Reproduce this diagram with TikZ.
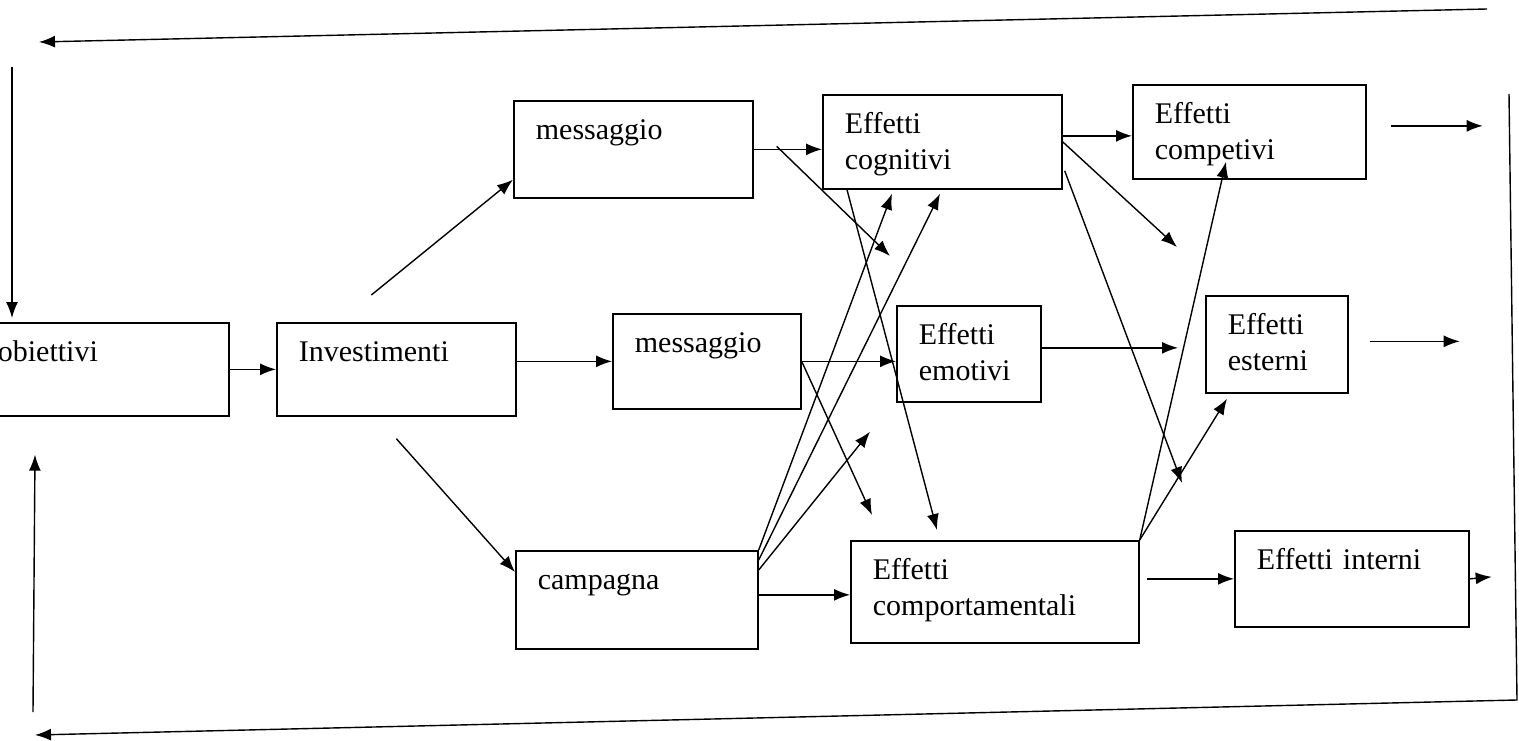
\documentclass[tikz,border=0pt]{standalone}
\usepackage{fontspec}
\setmainfont{Liberation Serif}
\usetikzlibrary{calc,arrows.meta}
\tikzset{
	box/.style 2 args={draw, line width=1.7pt, anchor=north west, align=left,
		inner xsep=22pt, inner ysep=0pt, text width=#1, text height=39pt, text depth=#2},
	arr/.style={line width=1.4pt, -{Latex[length=16pt,width=12pt]}},
}

\begin{document}
\begin{tikzpicture}[x=1pt, y=-1pt, font=\fontsize{30}{36}\selectfont]
		%%%%% START %%%%%
		\useasboundingbox (0,0) rectangle (1519,741);
		
		% boxes
		\node[box={209pt}{54pt}] (obj) at (-25,322) {obiettivi};
		\node[box={195pt}{54pt}] (inv) at (276,322) {Investimenti};
		\node[box={195pt}{58pt}] (msg1) at (513,100) {messaggio};
		\node[box={144pt}{56pt}] (msg2) at (612,313) {messaggio};
		\node[box={198pt}{59pt}] (camp) at (515,550) {campagna};
		
		\node[box={195pt}{55pt}] (cog) at (822,94) {Effetti\\cognitivi};
		\node[box={100pt}{57pt}] (emo) at (896,305) {Effetti\\emotivi};
		\node[box={244pt}{63pt}] (beh) at (850,540) {Effetti\\comportamentali};
		
		\node[box={189pt}{55pt}] (comp) at (1132,84) {Effetti\\competivi};
		\node[box={98pt}{58pt}] (est) at (1205,295) {Effetti\\esterni};
		\node[box={190pt}{57pt}] (int) at (1234,530) {Effetti interni};
		
		% feedback
		\coordinate (topright) at (1487,9);
		\coordinate (topleft) at (39,42);
		\coordinate (lefttop) at (12,67);
		\coordinate (rtop) at (1509,94);
		\coordinate (rbot) at (1517,700);
		\coordinate (botleft) at (35,735);
		\coordinate (upbot) at (33,712);
		
		\draw[arr] (topright) -- (topleft);
		\draw[arr] (lefttop) -- ($(obj.north west)+(37,-4)$);
		\draw[arr] (rtop) -- (rbot) -- (botleft);
		\draw[arr] (upbot) -- ($(obj.south west)+(60,38)$);
		
		% investimenti
		\draw[arr] (obj.east) -- (inv.west);
		\draw[arr] (inv.east |- msg2.west) -- (msg2.west);
		\draw[arr] ($(inv.north)+(-25,-27)$) -- ($(msg1.south west)+(0,-19)$);
		\draw[arr] ($(inv.south)+(0,22)$) -- ($(camp.north west)+(0,22)$);
		
		% messaggio
		\draw[arr] (msg1.east) -- (msg1.east -| cog.west);
		\draw[arr] ($(msg1.east)+(23,-3)$) -- ($(emo.north west)+(-6,-49)$);
		\draw[arr] (msg2.east) -- (msg2.east -| emo.west);
		\draw[arr] (msg2.east) -- ($(beh.north west)+(22,-25)$);
		
		% campagna
		\draw[arr] ($(camp.east)+(0,-5)$) -- ($(beh.west)+(0,3)$);
		\draw[arr] (camp.north east) -- ($(cog.south west)+(70,4)$);
		\draw[arr] ($(camp.north east)+(0,10)$) -- ($(cog.south west)+(118,4)$);
		\draw[arr] ($(camp.north east)+(0,20)$) -- ($(emo.south west)+(-26,29)$);
		
		% effetti
		\draw[arr] ($(cog.east)+(0,-6)$) -- ($(comp.west)+(0,4)$);
		\draw[arr] ($(comp.east)+(24,-6)$) -- ($(comp.east)+(116,-6)$);
		\draw[arr] (cog.east) -- ($(est.north west)+(-28,-48)$);
		\draw[arr] ($(cog.east)+(2,29)$) -- ($(int.north west)+(-52,-47)$);
		\draw[arr] ($(cog.south west)+(25,0)$) -- ($(beh.north west)+(87,-10)$);
		
		\draw[arr] ($(emo.east)+(0,-6)$) -- ($(est.west)+(-27,3.5)$);
		\draw[arr] ($(est.east)+(21,-3)$) -- ($(est.east)+(111,-3)$);
		
		\draw[arr] (beh.north east) -- ($(comp.south west)+(94,-18)$);
		\draw[arr] (beh.north east) -- ($(est.south west)+(22,5)$);
		\draw[arr] ($(beh.east |- int.west)+(7,0)$) -- (int.west);
		\draw[arr] (int.east) -- ($(int.east)+(22,-2)$);
		
		%%%%% END %%%%%
\end{tikzpicture}
\end{document}
